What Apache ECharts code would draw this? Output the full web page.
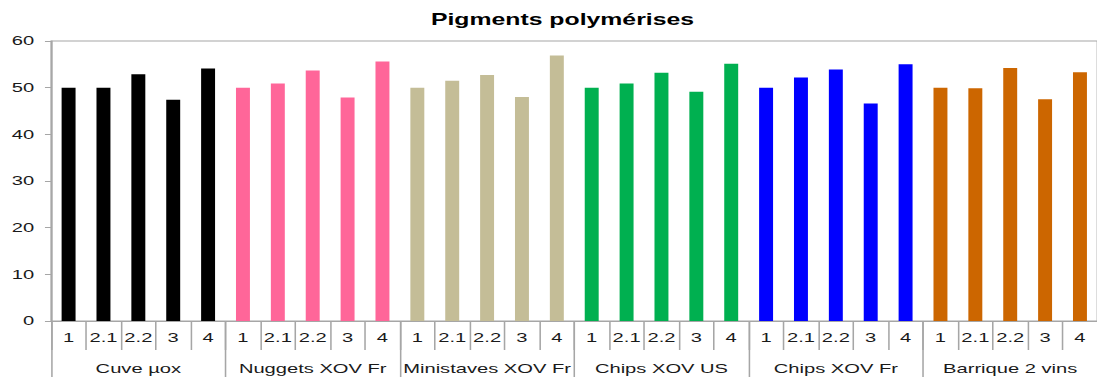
<!DOCTYPE html>
<html><head><meta charset="utf-8">
<script src="https://cdn.jsdelivr.net/npm/echarts@6/dist/echarts.min.js"></script>
<style>
html,body{margin:0;padding:0;background:#fff;overflow:hidden}
#c{width:708px;height:377px;transform:scaleX(1.55);transform-origin:0 0}
</style>
</head><body><div id="c"></div>
<script>
const groups = ["Cuve µox", "Nuggets XOV Fr", "Ministaves XOV Fr", "Chips XOV US", "Chips XOV Fr", "Barrique 2 vins"];
const subLabels = ["1", "2.1", "2.2", "3", "4"];
const groupColors = ["#000000", "#FF6699", "#C4BD97", "#00B050", "#0000FF", "#CC6600"];
const cuveMox = [50.0, 50.0, 52.9, 47.4, 54.1];
const nuggetsFr = [50.0, 50.9, 53.7, 47.9, 55.6];
const ministavesFr = [50.0, 51.5, 52.7, 48.0, 56.9];
const chipsUS = [50.0, 50.9, 53.2, 49.1, 55.1];
const chipsFr = [50.0, 52.2, 53.9, 46.6, 55.0];
const barrique = [50.0, 49.9, 54.2, 47.5, 53.3];
const yTicks = [0, 10, 20, 30, 40, 50, 60];

const seriesValues = [cuveMox, nuggetsFr, ministavesFr, chipsUS, chipsFr, barrique];
const cats = [], data = [];
seriesValues.forEach((vals, g) => {
  vals.forEach((v, i) => {
    cats.push(subLabels[i] + "\u200b".repeat(g));
    data.push({ value: v, itemStyle: { color: groupColors[g] } });
  });
});

const font = "Liberation Sans";
const chart = echarts.init(document.getElementById('c'), null, { renderer: 'svg' });
chart.setOption({
  animation: false,
  title: {
    text: "Pigments polymérises", left: 273, top: 6,
    textStyle: { fontFamily: font, fontSize: 16, fontWeight: 'bold', color: '#000' }
  },
  grid: { left: 33, width: 677, top: 41, bottom: 56, show: true, borderColor: '#a6a6a6', borderWidth: 1, backgroundColor: 'transparent' },
  xAxis: [{
    type: 'category', data: cats, position: 'bottom',
    axisLine: { show: true, lineStyle: { color: '#a6a6a6' } },
    axisTick: { show: true, length: 29, lineStyle: { color: '#a6a6a6' } },
    axisLabel: { interval: 0, margin: 10, fontFamily: font, fontSize: 13, color: '#1a1a1a' }
  }, {
    type: 'category', data: groups, position: 'bottom',
    axisLine: { show: false },
    axisTick: { show: true, length: 60, lineStyle: { color: '#a6a6a6' } },
    axisLabel: { interval: 0, margin: 41, fontFamily: font, fontSize: 13, color: '#1a1a1a' }
  }],
  yAxis: {
    type: 'value', min: yTicks[0], max: yTicks[yTicks.length - 1], interval: 10,
    axisLine: { show: true, lineStyle: { color: '#a6a6a6' } },
    axisTick: { show: true, length: 4, lineStyle: { color: '#a6a6a6' } },
    splitLine: { show: false },
    axisLabel: { margin: 11, fontFamily: font, fontSize: 13, color: '#1a1a1a' }
  },
  series: [{ type: 'bar', xAxisIndex: 0, barWidth: 9, data: data }]
});
</script></body></html>
